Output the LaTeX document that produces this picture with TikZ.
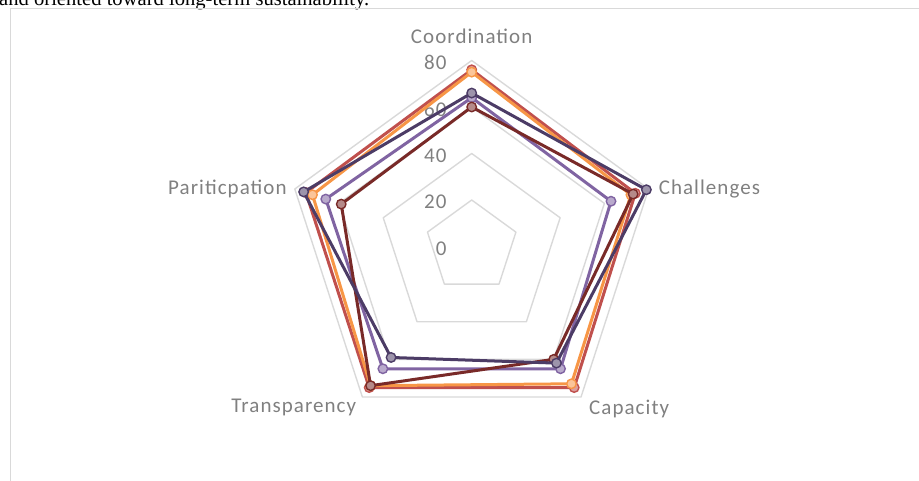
\documentclass[tikz,border=0pt]{standalone}
\usepackage{fontspec}
\setmainfont{Carlito}
\newfontfamily\chartFont[LetterSpace=5]{Carlito}
\newfontfamily\textFont{Liberation Serif}
\usetikzlibrary{positioning}
\definecolor{gridColor}{RGB}{217,217,217}
\definecolor{labelColor}{RGB}{128,128,128}
\definecolor{redSeries}{RGB}{192,80,77}
\definecolor{orangeSeries}{RGB}{247,150,70}
\definecolor{lilacSeries}{RGB}{128,100,162}
\definecolor{plumSeries}{RGB}{76,60,102}
\definecolor{maroonSeries}{RGB}{121,42,40}
\tikzstyle{gridRing} = [color=gridColor, line width=1.4pt, line join=round]
\tikzstyle{frameLine} = [color=gridColor, line width=1.2pt]
\tikzstyle{seriesLine} = [line width=3pt, line join=round]
\tikzstyle{seriesMarker} = [circle, inner sep=0pt, minimum size=9.5pt, line width=1.4pt]
\tikzstyle{axisText} = [font=\chartFont\fontsize{21}{25}\selectfont, text=labelColor, inner sep=0pt]
\newcommand{\unitRadius}{2.325}
\newcommand{\gridRingAt}[1]{
  \pgfmathsetmacro{\ringRadius}{#1 * \unitRadius}
  \draw [gridRing] (90:\ringRadius) -- (18:\ringRadius) -- (-54:\ringRadius) -- (-126:\ringRadius) -- (162:\ringRadius) -- cycle;
}
\newcommand{\radarSeries}[7]{
  \foreach \pointValue [count=\axisIndex from 0] in {#3,#4,#5,#6,#7} {
    \pgfmathsetmacro{\pointRadius}{\pointValue * \unitRadius}
    \pgfmathsetmacro{\pointAngle}{90 - 72 * \axisIndex}
    \coordinate (#1-\axisIndex) at (\pointAngle:\pointRadius);
  }
  \draw [seriesLine, color=#2] (#1-0) -- (#1-1) -- (#1-2) -- (#1-3) -- (#1-4) -- cycle;
  \foreach \axisIndex in {0,...,4} {
    \node [seriesMarker, draw=#2, fill=#2!55!white] (#1-mark-\axisIndex) at (#1-\axisIndex) {};
  }
}
\begin{document}
\begin{tikzpicture}[x=1pt, y=1pt]
  \clip (0,0) rectangle (919,481);
  \useasboundingbox (0,0) rectangle (919,481);
  \node [font=\textFont\fontsize{20.6}{24}\selectfont, anchor=base west, inner sep=0pt] (introText) at (-1,475.5) {and oriented toward long-term sustainability.};
  \draw [frameLine] (10.5,-5) |- (930,472.7);
  \begin{scope}[shift={(471.7,234.5)}]
    \foreach \ring in {20,40,60,80} {
      \gridRingAt{\ring}
    }
    \foreach \axisIndex in {0,...,4} {
      \pgfmathsetmacro{\pointAngle}{90 - 72 * \axisIndex}
      \coordinate (outer-\axisIndex) at (\pointAngle:186);
    }
    \foreach \tick in {0,20,...,80} {
      \pgfmathsetmacro{\tickHeight}{\tick * \unitRadius - 2}
      \node [axisText, anchor=east] (tick-\tick) at (-25,\tickHeight) {\tick};
    }
    \radarSeries{red}{redSeries}{76}{74}{75}{75}{75}
    \radarSeries{orange}{orangeSeries}{75}{72}{73}{74}{72}
    \radarSeries{lilac}{lilacSeries}{64}{63}{65}{65}{66}
    \radarSeries{maroon}{maroonSeries}{60}{73}{60}{74}{59}
    \radarSeries{plum}{plumSeries}{66}{79}{62}{59}{76}
    \node [axisText, above=16.5pt of outer-0] (coordinationLabel) {Coordination};
    \node [axisText, right=10pt of outer-1] (challengesLabel) {Challenges};
    \node [axisText, below right=3pt and 8pt of outer-2] (capacityLabel) {Capacity};
    \node [axisText, below left=2pt and 6pt of outer-3] (transparencyLabel) {Transparency};
    \node [axisText, left=8pt of outer-4] (participationLabel) {Pariticpation};
  \end{scope}
\end{tikzpicture}
\end{document}
